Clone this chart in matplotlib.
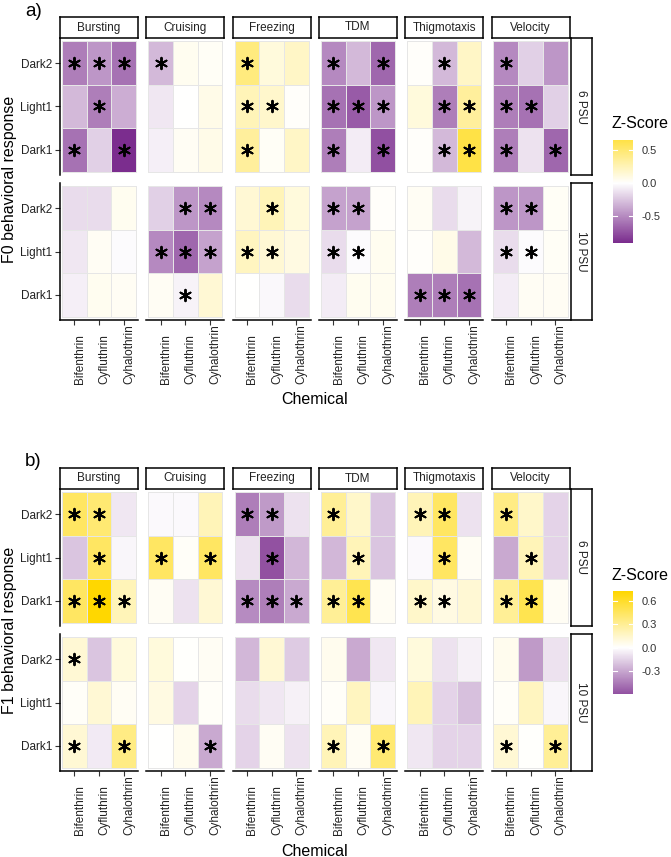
import matplotlib
matplotlib.use('Agg')
import matplotlib.pyplot as plt
import matplotlib.transforms as mtransforms
import numpy as np
from matplotlib.colors import LinearSegmentedColormap, Normalize

plt.rcParams['font.family'] = ['Liberation Sans', 'DejaVu Sans']

behaviors = ['Bursting', 'Cruising', 'Freezing', 'TDM', 'Thigmotaxis', 'Velocity']
chemicals = ['Bifenthrin', 'Cyfluthrin', 'Cyhalothrin']
periods = ['Dark2', 'Light1', 'Dark1']   # top to bottom
salinities = ['6 PSU', '10 PSU']

# z-scores per behavior: rows = periods, cols = chemicals
f0_6psu = [
    [[-0.55, -0.45, -0.60], [-0.30, -0.55, -0.35], [-0.60, -0.20, -0.90]],
    [[-0.30, 0.05, 0.03], [-0.10, 0.00, 0.08], [-0.07, 0.04, 0.08]],
    [[0.45, 0.12, 0.20], [0.25, 0.18, 0.02], [0.35, 0.03, 0.20]],
    [[-0.50, -0.30, -0.65], [-0.60, -0.70, -0.45], [-0.55, -0.08, -0.75]],
    [[0.02, -0.30, 0.20], [0.12, -0.55, 0.35], [0.02, -0.30, 0.65]],
    [[-0.50, -0.20, -0.45], [-0.55, -0.60, -0.20], [-0.55, -0.12, -0.65]],
]
f0_10psu = [
    [[-0.15, -0.15, 0.05], [-0.10, 0.04, -0.02], [-0.07, 0.05, 0.04]],
    [[-0.20, -0.45, -0.50], [-0.50, -0.65, -0.40], [0.04, -0.05, 0.15]],
    [[0.15, 0.25, 0.12], [0.22, 0.15, 0.10], [0.00, -0.03, -0.15]],
    [[-0.40, -0.40, 0.02], [-0.15, -0.02, 0.05], [-0.08, 0.05, 0.05]],
    [[0.04, -0.15, -0.05], [0.02, 0.08, -0.30], [-0.55, -0.55, -0.60]],
    [[-0.45, -0.45, 0.03], [-0.15, -0.02, 0.03], [-0.08, 0.04, 0.04]],
]
f1_6psu = [
    [[0.45, 0.40, -0.08], [-0.20, 0.45, -0.03], [0.45, 0.73, 0.20]],
    [[-0.02, -0.02, 0.20], [0.45, 0.02, 0.45], [0.03, -0.10, 0.12]],
    [[-0.45, -0.35, -0.10], [-0.10, -0.60, -0.25], [-0.40, -0.45, -0.30]],
    [[0.30, 0.15, -0.20], [-0.25, 0.20, -0.20], [0.30, 0.50, 0.03]],
    [[0.20, 0.45, -0.10], [-0.02, 0.45, 0.03], [0.15, 0.08, 0.12]],
    [[0.35, 0.15, -0.15], [-0.30, 0.20, -0.15], [0.30, 0.50, 0.03]],
]
f1_10psu = [
    [[0.12, -0.20, 0.10], [0.02, 0.12, 0.03], [0.12, -0.07, 0.35]],
    [[0.10, 0.01, 0.03], [0.08, -0.15, 0.02], [0.00, 0.05, -0.30]],
    [[-0.25, 0.12, -0.18], [-0.12, -0.08, -0.05], [-0.15, 0.03, -0.10]],
    [[0.05, -0.30, -0.08], [0.02, 0.18, -0.03], [0.20, 0.03, 0.40]],
    [[0.10, -0.10, -0.05], [0.20, -0.15, -0.22], [-0.08, -0.15, -0.15]],
    [[0.05, -0.35, -0.10], [0.02, 0.18, -0.03], [0.12, 0.01, 0.30]],
]

# significance (1 = asterisk)
f0_6psu_sig = [
    [[1, 1, 1], [0, 1, 0], [1, 0, 1]],
    [[1, 0, 0], [0, 0, 0], [0, 0, 0]],
    [[1, 0, 0], [1, 1, 0], [1, 0, 0]],
    [[1, 0, 1], [1, 1, 1], [1, 0, 1]],
    [[0, 1, 0], [0, 1, 1], [0, 1, 1]],
    [[1, 0, 0], [1, 1, 0], [1, 0, 1]],
]
f0_10psu_sig = [
    [[0, 0, 0], [0, 0, 0], [0, 0, 0]],
    [[0, 1, 1], [1, 1, 1], [0, 1, 0]],
    [[0, 1, 0], [1, 1, 0], [0, 0, 0]],
    [[1, 1, 0], [1, 1, 0], [0, 0, 0]],
    [[0, 0, 0], [0, 0, 0], [1, 1, 1]],
    [[1, 1, 0], [1, 1, 0], [0, 0, 0]],
]
f1_6psu_sig = [
    [[1, 1, 0], [0, 1, 0], [1, 1, 1]],
    [[0, 0, 0], [1, 0, 1], [0, 0, 0]],
    [[1, 1, 0], [0, 1, 0], [1, 1, 1]],
    [[1, 0, 0], [0, 1, 0], [1, 1, 0]],
    [[1, 1, 0], [0, 1, 0], [1, 1, 0]],
    [[1, 0, 0], [0, 1, 0], [1, 1, 0]],
]
f1_10psu_sig = [
    [[1, 0, 0], [0, 0, 0], [1, 0, 1]],
    [[0, 0, 0], [0, 0, 0], [0, 0, 1]],
    [[0, 0, 0], [0, 0, 0], [0, 0, 0]],
    [[0, 0, 0], [0, 0, 0], [1, 0, 1]],
    [[0, 0, 0], [0, 0, 0], [0, 0, 0]],
    [[0, 0, 0], [0, 0, 0], [1, 0, 1]],
]

W, H = 671, 857
fig = plt.figure(figsize=(W / 100, H / 100), dpi=100)


def px(l, t, w, h):
    return [l / W, 1 - (t + h) / H, w / W, h / H]


cmap = LinearSegmentedColormap.from_list('zs', ['#7B2D8E', '#ffffff', '#FFD700'])
M = 0.08  # axis expansion around tiles


def draw_block(top, tag, gen, vals, sigs, cb_ticks):
    allv = np.array(vals)
    lim = np.abs(allv).max()
    norm = Normalize(-lim, lim)
    row_tops = [top, top + 145]
    row_h = 137
    for r, sal in enumerate(salinities):
        for c, beh in enumerate(behaviors):
            left = 60 + c * 86.3
            ax = fig.add_axes(px(left, row_tops[r], 78, row_h))
            data = np.array(vals[r][c])
            ax.pcolormesh(np.arange(4) - 0.5, np.arange(4) - 0.5, data, cmap=cmap, norm=norm,
                          edgecolor='#e6e6e6', linewidth=0.4)
            sy, sx = np.nonzero(np.array(sigs[r][c]))
            ax.scatter(sx, sy, marker=(6, 2, 0), s=68, c='black', linewidths=1.4, zorder=3)
            ax.set_xlim(-0.5 - M, 2.5 + M)
            ax.set_ylim(2.5 + M, -0.5 - M)
            for s in ax.spines.values():
                s.set_visible(False)
            ax.tick_params(length=3.5, width=0.8, color='#333333', labelsize=8.5,
                           labelcolor='#222222', pad=2)
            if c == 0:
                ax.spines['left'].set_visible(True)
                ax.spines['left'].set_linewidth(1.1)
                ax.set_yticks(range(3))
                ax.set_yticklabels(periods)
            else:
                ax.set_yticks([])
            if r == 1:
                ax.spines['bottom'].set_visible(True)
                ax.spines['bottom'].set_linewidth(1.1)
                ax.set_xticks(range(3))
                ax.set_xticklabels([])
                trans = mtransforms.blended_transform_factory(ax.transData, ax.transAxes)
                for i, chem in enumerate(chemicals):
                    ax.text(i - 0.02, -64 / row_h, chem, transform=trans, rotation=90,
                            ha='left', va='bottom', fontsize=8.5, color='#222222')
            else:
                ax.set_xticks([])
            if r == 0:
                sax = fig.add_axes(px(left, top - 21, 78, 21))
                sax.set_xticks([])
                sax.set_yticks([])
                for s in sax.spines.values():
                    s.set_linewidth(1.1)
                sax.text(0.5, 0.5, beh, ha='center', va='center', fontsize=8.5,
                         color='#222222', transform=sax.transAxes)
        rax = fig.add_axes(px(571, row_tops[r], 21, row_h))
        rax.set_xticks([])
        rax.set_yticks([])
        for s in rax.spines.values():
            s.set_linewidth(1.1)
        rax.text(0.5, 0.5, sal, ha='center', va='center', rotation=270, fontsize=8.5,
                 color='#222222', transform=rax.transAxes)

    # colorbar over the data range
    vmin, vmax = allv.min(), allv.max()
    cax = fig.add_axes(px(613, top + 102, 20, 103))
    grad = np.linspace(vmin, vmax, 256).reshape(-1, 1)
    cax.imshow(grad, cmap=cmap, norm=norm, aspect='auto', origin='lower',
               extent=[0, 1, vmin, vmax])
    cax.set_xlim(0, 1)
    cax.set_ylim(vmin, vmax)
    for s in cax.spines.values():
        s.set_visible(False)
    cax.set_xticks([])
    cax.yaxis.tick_right()
    cax.set_yticks(cb_ticks)
    cax.set_yticklabels(['%.1f' % t for t in cb_ticks])
    cax.tick_params(axis='y', length=0, labelsize=8, labelcolor='#333333', pad=6)
    for t in cb_ticks:
        cax.plot([0, 0.2], [t, t], color='white', lw=0.8)
        cax.plot([0.8, 1], [t, t], color='white', lw=0.8)
    fig.text(612 / W, 1 - (top + 86) / H, 'Z-Score', fontsize=11.5, ha='left', va='center')

    fig.text(9.5 / W, 1 - (top + 141) / H, gen + ' behavioral response', fontsize=11.5,
             rotation=90, ha='center', va='center')
    fig.text(315 / W, 1 - (top + 362) / H, 'Chemical', fontsize=11.5, ha='center', va='center')
    fig.text(25 / W, 1 - (top - 27) / H, tag, fontsize=13.5, ha='left', va='center')


draw_block(38, 'a)', 'F0', [f0_6psu, f0_10psu], [f0_6psu_sig, f0_10psu_sig], [-0.5, 0.0, 0.5])
draw_block(489, 'b)', 'F1', [f1_6psu, f1_10psu], [f1_6psu_sig, f1_10psu_sig], [-0.3, 0.0, 0.3, 0.6])

fig.savefig('out.png', dpi=100)
